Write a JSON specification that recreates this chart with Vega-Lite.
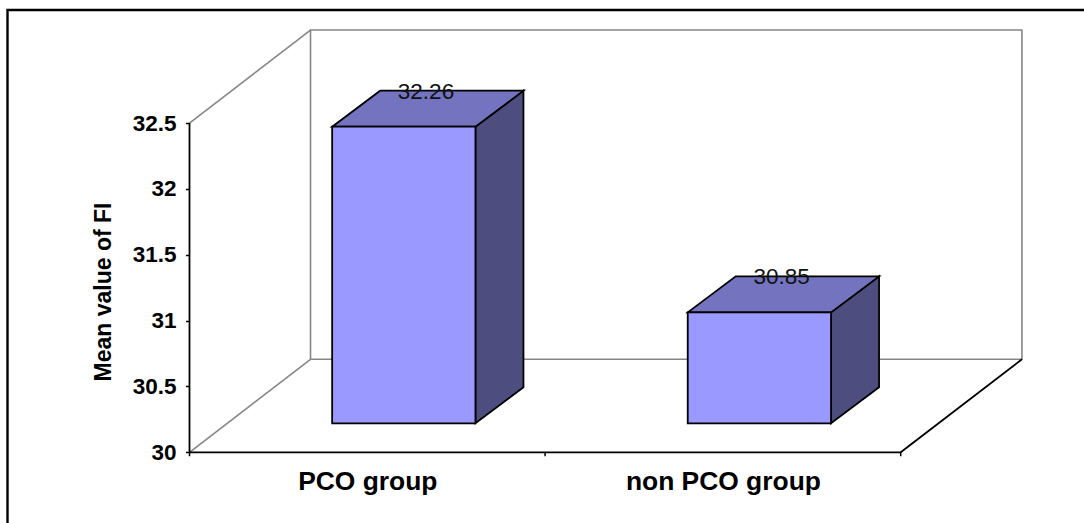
{"$schema":"https://vega.github.io/schema/vega-lite/v6.json","width":1084,"height":523,"padding":0,"autosize":"none","background":"white","config":{"view":{"stroke":null},"text":{"font":"Liberation Sans"},"axis":{"labelFont":"Liberation Sans","titleFont":"Liberation Sans"}},
"datasets":{
"bars":[{"group":"PCO group","x":0.2985,"x2":0.7015,"value":32.26,"y2":30},{"group":"non PCO group","x":1.2985,"x2":1.7015,"value":30.85,"y2":30}],
"labels":[{"group":"PCO group","x":0.5,"value":32.26,"label":"32.26"},{"group":"non PCO group","x":1.5,"value":30.85,"label":"30.85"}],
"tops":[
{"group":"PCO group","x":0.2985,"value":32.26,"y2":32.26},{"group":"PCO group","x":0.4335,"value":32.5333,"y2":32.26},{"group":"PCO group","x":0.7015,"value":32.5333,"y2":32.26},{"group":"PCO group","x":0.8365,"value":32.5333,"y2":32.5333},
{"group":"non PCO group","x":1.2985,"value":30.85,"y2":30.85},{"group":"non PCO group","x":1.4335,"value":31.1233,"y2":30.85},{"group":"non PCO group","x":1.7015,"value":31.1233,"y2":30.85},{"group":"non PCO group","x":1.8365,"value":31.1233,"y2":31.1233}],
"sides":[
{"group":"PCO group","x":0.7015,"value":32.26,"y2":30},{"group":"PCO group","x":0.8365,"value":32.5333,"y2":30.2733},
{"group":"non PCO group","x":1.7015,"value":30.85,"y2":30},{"group":"non PCO group","x":1.8365,"value":31.1233,"y2":30.2733}],
"walls":[
{"seg":"back","seq":1,"x":0.3403,"value":30.7061},{"seg":"back","seq":2,"x":0.3403,"value":33.2061},{"seg":"back","seq":3,"x":2.341,"value":33.2061},{"seg":"back","seq":4,"x":2.341,"value":30.7061},{"seg":"back","seq":5,"x":0.3403,"value":30.7061},
{"seg":"side-top","seq":1,"x":0,"value":32.5},{"seg":"side-top","seq":2,"x":0.3403,"value":33.2061},
{"seg":"side-floor","seq":1,"x":0,"value":30},{"seg":"side-floor","seq":2,"x":0.3403,"value":30.7061}],
"edges":[
{"seg":"axis","seq":1,"x":0,"value":30},{"seg":"axis","seq":2,"x":0,"value":32.5},
{"seg":"floor","seq":1,"x":0,"value":30},{"seg":"floor","seq":2,"x":2,"value":30},{"seg":"floor","seq":3,"x":2.341,"value":30.7061}],
"frame":[{"seq":1,"x":-0.5118,"value":29.4632},{"seq":2,"x":-0.5118,"value":33.358},{"seq":3,"x":2.5155,"value":33.358}],
"ticks":[{"x":0,"value":30,"y2":29.97},{"x":1,"value":30,"y2":29.97},{"x":2,"value":30,"y2":29.97}]
},
"encoding":{
"x":{"field":"x","type":"quantitative","scale":{"domain":[-0.5329,2.5155],"nice":false,"zero":false},"axis":{"orient":"bottom","offset":-70.7,"values":[0.5,1.5],"labelExpr":"datum.value==0.5?'PCO group':'non PCO group'","grid":false,"domain":false,"tickSize":0,"labelFontSize":26.4,"labelFontWeight":"bold","labelColor":"black","labelPadding":16,"labelLimit":400,"title":null,"labelFlush":false,"labelOverlap":false}},
"y":{"field":"value","type":"quantitative","scale":{"domain":[29.4632,33.4343],"nice":false,"zero":false},"axis":{"orient":"left","offset":-189.5,"values":[30,30.5,31,31.5,32,32.5],"format":"~g","grid":false,"domain":false,"tickSize":4,"tickColor":"black","tickWidth":1.5,"labelFontSize":22.5,"labelFontWeight":"bold","labelColor":"black","labelPadding":9.5,"title":"Mean value of FI","titleFontSize":23,"titleFontWeight":"bold","titleColor":"black","titlePadding":17,"titleY":291.5,"labelFlush":false,"labelOverlap":false}}
},
"layer":[
{"data":{"name":"frame"},"mark":{"type":"line","color":"black","strokeWidth":2.4},"encoding":{"order":{"field":"seq"}}},
{"data":{"name":"walls"},"mark":{"type":"line","color":"#868686","strokeWidth":1.6},"encoding":{"detail":{"field":"seg"},"order":{"field":"seq"}}},
{"data":{"name":"edges"},"mark":{"type":"line","color":"black","strokeWidth":1.8},"encoding":{"detail":{"field":"seg"},"order":{"field":"seq"}}},
{"data":{"name":"ticks"},"mark":{"type":"rule","color":"black","strokeWidth":1.5},"encoding":{"y2":{"field":"y2"}}},
{"data":{"name":"sides"},"mark":{"type":"area","color":"#4D4D80","stroke":"black","strokeWidth":1.8,"xOffset":36.5,"yOffset":-28,"y2Offset":-29},"encoding":{"detail":{"field":"group"},"y2":{"field":"y2"}}},
{"data":{"name":"tops"},"mark":{"type":"area","color":"#7373BF","stroke":"black","strokeWidth":1.8,"xOffset":36.5,"yOffset":-28,"y2Offset":-28},"encoding":{"detail":{"field":"group"},"y2":{"field":"y2"}}},
{"data":{"name":"bars"},"mark":{"type":"rect","color":"#9999FF","stroke":"black","strokeWidth":1.8,"xOffset":36.5,"x2Offset":36.5,"yOffset":-28,"y2Offset":-29},"encoding":{"x2":{"field":"x2"},"y2":{"field":"y2"}}},
{"data":{"name":"labels"},"mark":{"type":"text","color":"#111111","fontSize":22.5,"font":"Liberation Sans","dx":58.7,"dy":-63,"baseline":"middle"},"encoding":{"text":{"field":"label"}}}
]}
